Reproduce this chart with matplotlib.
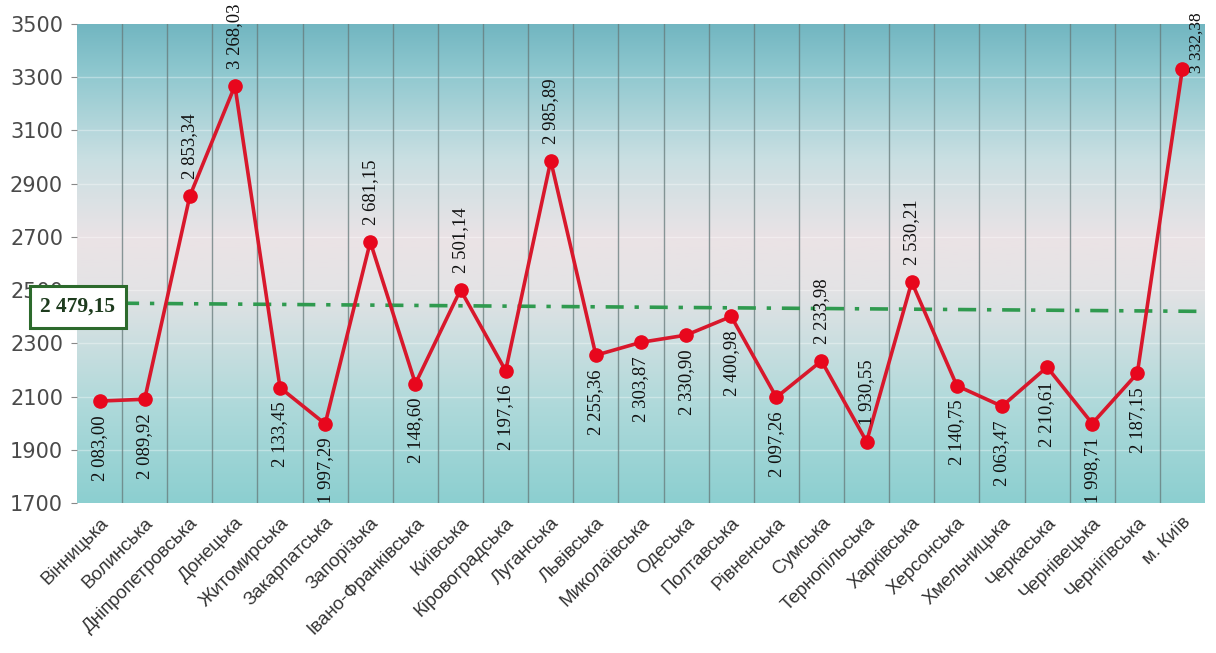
import numpy as np
import matplotlib
matplotlib.use("Agg")
import matplotlib.pyplot as plt
from matplotlib.colors import LinearSegmentedColormap

regions = ["Вінницька", "Волинська", "Дніпропетровська", "Донецька", "Житомирська",
           "Закарпатська", "Запорізька", "Івано-Франківська", "Київська", "Кіровоградська",
           "Луганська", "Львівська", "Миколаївська", "Одеська", "Полтавська",
           "Рівненська", "Сумська", "Тернопільська", "Харківська", "Херсонська",
           "Хмельницька", "Черкаська", "Чернівецька", "Чернігівська", "м. Київ"]
values = [2083.00, 2089.92, 2853.34, 3268.03, 2133.45,
          1997.29, 2681.15, 2148.60, 2501.14, 2197.16,
          2985.89, 2255.36, 2303.87, 2330.90, 2400.98,
          2097.26, 2233.98, 1930.55, 2530.21, 2140.75,
          2063.47, 2210.61, 1998.71, 2187.15, 3332.38]
# label placement: 1 = above point, -1 = below point
label_side = [-1, -1, 1, 1, -1,
              -1, 1, -1, 1, -1,
              1, -1, -1, -1, -1,
              -1, 1, 1, 1, -1,
              -1, -1, -1, -1, 1]
average_value = 2479.15
average_line_ends = [2452, 2420]   # drawn (slightly sloped) average line, as in the picture
y_ticks = [1700, 1900, 2100, 2300, 2500, 2700, 2900, 3100, 3300, 3500]


def fmt(v):
    s = f"{v:,.2f}"
    return s.replace(",", " ").replace(".", ",")


fig = plt.figure(figsize=(12.16, 6.53), dpi=100)
ax = fig.add_axes([77 / 1216, 1 - 503 / 653, (1205 - 77) / 1216, (503 - 24) / 653])

n = len(regions)
x = np.arange(n)
ax.set_xlim(-0.5, n - 0.5)
ax.set_ylim(y_ticks[0], y_ticks[-1])

# gradient background
cmap = LinearSegmentedColormap.from_list(
    "bg",
    [(0.0, "#8ccfd0"), (0.2, "#aed9da"), (0.45, "#e4e3e5"), (0.55, "#ebe3e6"),
     (0.72, "#c9dfe2"), (0.9, "#8fc8cf"), (1.0, "#72b6c1")])
grad = np.linspace(0, 1, 256).reshape(-1, 1)
ax.imshow(grad, aspect="auto", cmap=cmap, origin="lower",
          extent=[-0.5, n - 0.5, y_ticks[0], y_ticks[-1]], zorder=0)

# grid
for yt in y_ticks[1:-1]:
    ax.axhline(yt, color="white", lw=1, alpha=0.35, zorder=1)
for b in np.arange(0.5, n - 0.5, 1):
    ax.axvline(b, color="#667a7a", lw=1.0, alpha=0.75, zorder=1)

# average line
ax.plot([-0.5, n - 0.5], average_line_ends, color="#2f9a4f", lw=2.6,
        dashes=(5, 3, 1.2, 3), zorder=2)

# data line
ax.plot(x, values, color="#d8182c", lw=2.6, zorder=3,
        marker="o", markersize=9.5, markerfacecolor="#e8071d",
        markeredgecolor="#e8071d")

lab_fs = 13.5
for xi, v, side in zip(x, values, label_side):
    if xi == n - 1:
        ax.annotate(fmt(v), (xi, v), xytext=(10, -3), textcoords="offset points",
                    rotation=90, ha="center", va="bottom", fontsize=12.5,
                    family="Liberation Serif", color="#111111", annotation_clip=False)
    elif side > 0:
        ax.annotate(fmt(v), (xi, v), xytext=(0, 12), textcoords="offset points",
                    rotation=90, ha="center", va="bottom", fontsize=lab_fs,
                    family="Liberation Serif", color="#111111")
    else:
        ax.annotate(fmt(v), (xi, v), xytext=(0, -10), textcoords="offset points",
                    rotation=90, ha="center", va="top", fontsize=lab_fs,
                    family="Liberation Serif", color="#111111")

ax.set_yticks(y_ticks)
ax.set_yticklabels([str(t) for t in y_ticks], fontsize=15, color="#4a4a4a",
                   family="DejaVu Sans")
ax.set_xticks(x)
ax.set_xticklabels(regions, rotation=45, ha="right", va="top",
                   rotation_mode="anchor", fontsize=13.5, color="#333333",
                   family="Liberation Sans")
ax.tick_params(axis="x", length=0, pad=8)
ax.tick_params(axis="y", length=4, color="#888888", pad=6)
for s in ax.spines.values():
    s.set_visible(False)

# average label box
fig.text(78 / 1216, 1 - 307 / 653, fmt(average_value), ha="center", va="center",
         fontsize=15.5, family="Liberation Serif", fontweight="bold", color="#1d3b1d",
         bbox=dict(boxstyle="square,pad=0.5", facecolor="white",
                   edgecolor="#2c6a2c", linewidth=2.2), zorder=10)

fig.savefig("out.png", dpi=100)
